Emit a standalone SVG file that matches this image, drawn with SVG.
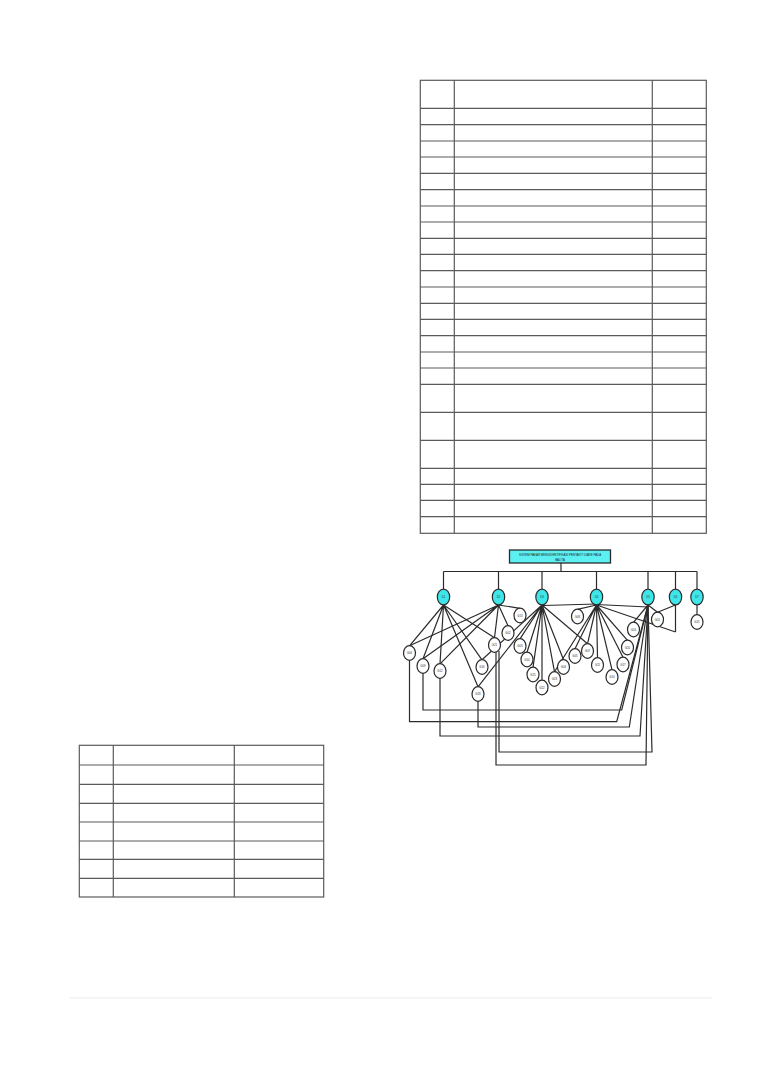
<svg xmlns="http://www.w3.org/2000/svg" width="761" height="1075" viewBox="0 0 761 1075">
<style>
.tb{stroke:#5a5a5a;stroke-width:1.2;fill:none}
.cn{stroke:#2b2b2b;stroke-width:1.2;fill:none}
.dn{fill:#3ee6ea;stroke:#2a2a2a;stroke-width:1.2}
.gn{fill:#ffffff;stroke:#2a2a2a;stroke-width:1.2}
.lb{font-family:"Liberation Sans",Arial,sans-serif;font-size:2.8px;fill:#333;text-anchor:middle}
.tt{font-family:"Liberation Sans",Arial,sans-serif;font-size:2.9px;fill:#222;text-anchor:middle}
</style>
<rect width="761" height="1075" fill="#ffffff"/>
<g id="table-top">
<rect class="tb" x="420.3" y="80.3" width="286" height="453"/>
<line class="tb" x1="454.3" y1="80.3" x2="454.3" y2="533.3"/>
<line class="tb" x1="652.3" y1="80.3" x2="652.3" y2="533.3"/>
<path class="tb" d="M420.3 108.3H706.3M420.3 124.7H706.3M420.3 141H706.3M420.3 157H706.3M420.3 173.3H706.3M420.3 189.7H706.3M420.3 206H706.3M420.3 222H706.3M420.3 238.3H706.3M420.3 254.3H706.3M420.3 270.7H706.3M420.3 287H706.3M420.3 303.3H706.3M420.3 319.3H706.3M420.3 335.7H706.3M420.3 352H706.3M420.3 368H706.3M420.3 384.3H706.3M420.3 412.3H706.3M420.3 440.3H706.3M420.3 468.3H706.3M420.3 484.3H706.3M420.3 500.3H706.3M420.3 516.7H706.3"/>
</g>
<g id="table-bottom">
<rect class="tb" x="79.3" y="745.3" width="244.4" height="151.7"/>
<line class="tb" x1="113.3" y1="745.3" x2="113.3" y2="897"/>
<line class="tb" x1="234.3" y1="745.3" x2="234.3" y2="897"/>
<path class="tb" d="M79.3 765H323.7M79.3 784.3H323.7M79.3 803.3H323.7M79.3 822H323.7M79.3 841H323.7M79.3 859.3H323.7M79.3 878.3H323.7"/>
</g>
<line x1="70" y1="998" x2="712" y2="998" stroke="#ececec" stroke-width="1"/>
<g id="connectors">
<path class="cn" d="M561 563V571.5M443.5 571.5H697M443.5 571.5V589M498.5 571.5V589M542 571.5V589M596.5 571.5V589M648 571.5V589M675.5 571.5V589M697 571.5V589"/>
<path class="cn" d="M443.5 605L409.5 645.8M443.5 605L423 658.8M443.5 605L440 663.8M443.5 605L482 659.8M443.5 605L478 686.8M443.5 605L494.5 637.8"/>
<path class="cn" d="M498.5 605L409.5 645.8M498.5 605L423 658.8M498.5 605L440 663.8M498.5 605L494.5 637.8M498.5 605L508 625.8M498.5 605L520 608.3"/>
<path class="cn" d="M542 605L482 659.8M542 605L478 686.8M542 605L520 638.8M542 605L527 652.3M542 605L533 667.3M542 605L542 680.3M542 605L554.5 671.8M542 605L563.5 659.8M542 605L587.5 643.8M543 605.5L596.5 604"/>
<path class="cn" d="M596.5 605L577.5 609.3M596.5 605L554.5 671.8M596.5 605L575 648.8M596.5 605L587.5 643.8M596.5 605L597.5 657.8M596.5 605L612 669.8M596.5 605L623 657.3M596.5 605L627.5 640.3M596.5 604.5L648 607M596.5 605L675.5 632"/>
<path class="cn" d="M648 605L633.5 622.3M648 605L657.5 612.3M675.5 605L657.5 612.3M675.5 605V632M697 605V614.8"/>
<path class="cn" d="M423 673V710H621.7L648 605"/>
<path class="cn" d="M409.5 660V721.7H616.7L648 605"/>
<path class="cn" d="M478 701V727H629.3L648 605"/>
<path class="cn" d="M440 678V736H640L648 605"/>
<path class="cn" d="M499 651V752H652L648 605"/>
<path class="cn" d="M496 652V765H646L648 605"/>
</g>
<g id="title">
<rect x="509.5" y="550" width="101" height="13" fill="#5cf0f2" stroke="#2a2a2a" stroke-width="1.3"/>
<text class="tt" x="560" y="556">SISTEM PAKAR MENGIDENTIFIKASI PENYAKIT DIARE PADA</text>
<text class="tt" x="560" y="560.5">BALITA</text>
</g>
<g id="D1"><ellipse class="dn" cx="443.5" cy="597" rx="6.2" ry="7.8"/><text class="lb" x="443.5" y="598">D1</text></g>
<g id="D2"><ellipse class="dn" cx="498.5" cy="597" rx="6.2" ry="7.8"/><text class="lb" x="498.5" y="598">D2</text></g>
<g id="D3"><ellipse class="dn" cx="542" cy="597" rx="6.2" ry="7.8"/><text class="lb" x="542" y="598">D3</text></g>
<g id="D4"><ellipse class="dn" cx="596.5" cy="597" rx="6.2" ry="7.8"/><text class="lb" x="596.5" y="598">D4</text></g>
<g id="D5"><ellipse class="dn" cx="648" cy="597" rx="6.2" ry="7.8"/><text class="lb" x="648" y="598">D5</text></g>
<g id="D6"><ellipse class="dn" cx="675.5" cy="597" rx="6.2" ry="7.8"/><text class="lb" x="675.5" y="598">D6</text></g>
<g id="D7"><ellipse class="dn" cx="697" cy="597" rx="6.2" ry="7.8"/><text class="lb" x="697" y="598">D7</text></g>
<g id="G06"><ellipse class="gn" cx="409.5" cy="653" rx="6" ry="7.4"/><text class="lb" x="409.5" y="654">G06</text></g>
<g id="G09"><ellipse class="gn" cx="423" cy="666" rx="6" ry="7.4"/><text class="lb" x="423" y="667">G09</text></g>
<g id="G12"><ellipse class="gn" cx="440" cy="671" rx="6" ry="7.4"/><text class="lb" x="440" y="672">G12</text></g>
<g id="G16"><ellipse class="gn" cx="482" cy="667" rx="6" ry="7.4"/><text class="lb" x="482" y="668">G16</text></g>
<g id="G18"><ellipse class="gn" cx="478" cy="694" rx="6" ry="7.4"/><text class="lb" x="478" y="695">G18</text></g>
<g id="G21"><ellipse class="gn" cx="494.5" cy="645" rx="6" ry="7.4"/><text class="lb" x="494.5" y="646">G21</text></g>
<g id="G02"><ellipse class="gn" cx="508" cy="633" rx="6" ry="7.4"/><text class="lb" x="508" y="634">G02</text></g>
<g id="G13"><ellipse class="gn" cx="520" cy="615.5" rx="6" ry="7.4"/><text class="lb" x="520" y="616.5">G13</text></g>
<g id="G03"><ellipse class="gn" cx="520" cy="646" rx="6" ry="7.4"/><text class="lb" x="520" y="647">G03</text></g>
<g id="G10"><ellipse class="gn" cx="527" cy="659.5" rx="6" ry="7.4"/><text class="lb" x="527" y="660.5">G10</text></g>
<g id="G15"><ellipse class="gn" cx="533" cy="674.5" rx="6" ry="7.4"/><text class="lb" x="533" y="675.5">G15</text></g>
<g id="G22"><ellipse class="gn" cx="542" cy="687.5" rx="6" ry="7.4"/><text class="lb" x="542" y="688.5">G22</text></g>
<g id="G23"><ellipse class="gn" cx="554.5" cy="679" rx="6" ry="7.4"/><text class="lb" x="554.5" y="680">G23</text></g>
<g id="G04"><ellipse class="gn" cx="563.5" cy="667" rx="6" ry="7.4"/><text class="lb" x="563.5" y="668">G04</text></g>
<g id="G05"><ellipse class="gn" cx="575" cy="656" rx="6" ry="7.4"/><text class="lb" x="575" y="657">G05</text></g>
<g id="G07"><ellipse class="gn" cx="587.5" cy="651" rx="6" ry="7.4"/><text class="lb" x="587.5" y="652">G07</text></g>
<g id="G11"><ellipse class="gn" cx="597.5" cy="665" rx="6" ry="7.4"/><text class="lb" x="597.5" y="666">G11</text></g>
<g id="G08"><ellipse class="gn" cx="577.5" cy="616.5" rx="6" ry="7.4"/><text class="lb" x="577.5" y="617.5">G08</text></g>
<g id="G14"><ellipse class="gn" cx="612" cy="677" rx="6" ry="7.4"/><text class="lb" x="612" y="678">G14</text></g>
<g id="G17"><ellipse class="gn" cx="623" cy="664.5" rx="6" ry="7.4"/><text class="lb" x="623" y="665.5">G17</text></g>
<g id="G20"><ellipse class="gn" cx="627.5" cy="647.5" rx="6" ry="7.4"/><text class="lb" x="627.5" y="648.5">G20</text></g>
<g id="G24"><ellipse class="gn" cx="633.5" cy="629.5" rx="6" ry="7.4"/><text class="lb" x="633.5" y="630.5">G24</text></g>
<g id="G01"><ellipse class="gn" cx="657.5" cy="619.5" rx="6" ry="7.4"/><text class="lb" x="657.5" y="620.5">G01</text></g>
<g id="G25"><ellipse class="gn" cx="697" cy="622" rx="6" ry="7.4"/><text class="lb" x="697" y="623">G25</text></g>
</svg>
